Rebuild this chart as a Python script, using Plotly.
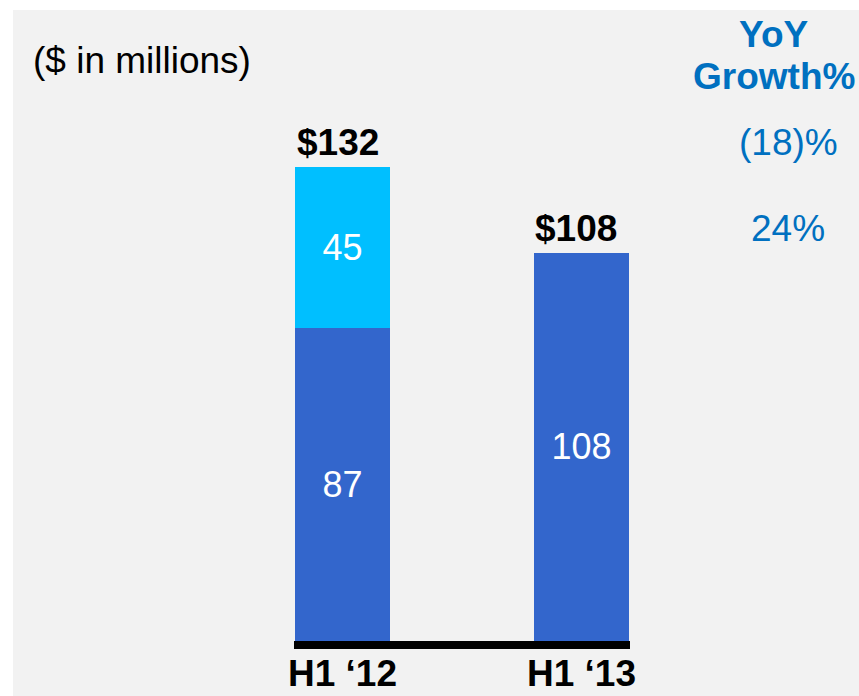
import plotly.graph_objects as go

categories = ["H1 ‘12", "H1 ‘13"]
base_values = [87, 108]
extra_values = [45, 0]
totals = [132, 108]
total_labels = ["$132", "$108"]
growth_labels = ["(18)%", "24%"]
unit_note = "($ in millions)"
growth_title = ["YoY", "Growth%"]

W, H = 859, 696
L, R, T, B = 294, 229, 102, 55
PW, PH = W - L - R, H - T - B
FONT = "Arial, Liberation Sans, sans-serif"
BLUE = "#3366cc"
CYAN = "#00bfff"
TXTBLUE = "#0070c0"
BG = "#f2f2f2"


def px_x(p):
    return (p - L) / PW


def px_y(p):
    return (H - B - p) / PH


fig = go.Figure()
fig.add_trace(go.Bar(
    x=categories, y=base_values, marker=dict(color=BLUE, line=dict(width=0)),
    width=0.4, text=[str(v) for v in base_values], textposition="inside",
    insidetextanchor="middle", textfont=dict(family=FONT, size=36, color="white"),
    hoverinfo="skip",
))
fig.add_trace(go.Bar(
    x=categories, y=extra_values, marker=dict(color=CYAN, line=dict(width=0)),
    width=0.4, text=[str(v) if v else "" for v in extra_values], textposition="inside",
    insidetextanchor="middle", textfont=dict(family=FONT, size=36, color="white"),
    hoverinfo="skip",
))

annotations = []
for c, t, lab in zip(categories, totals, total_labels):
    annotations.append(dict(x=c, y=t, xref="x", yref="y", text=lab, showarrow=False,
                            font=dict(family=FONT, size=37, color="black", weight="bold"),
                            yanchor="middle", yshift=24, xshift=-5))
for t, lab in zip(totals, growth_labels):
    annotations.append(dict(x=px_x(788), y=t, xref="paper", yref="y", text=lab, showarrow=False,
                            font=dict(family=FONT, size=37, color=TXTBLUE),
                            xanchor="center", yanchor="middle", yshift=24))
for i, line in enumerate(growth_title):
    annotations.append(dict(x=px_x(774), y=px_y(34 + 43 * i), xref="paper", yref="paper",
                            text=line, showarrow=False,
                            font=dict(family=FONT, size=37, color=TXTBLUE, weight="bold"),
                            xanchor="center", yanchor="middle"))
annotations.append(dict(x=px_x(31), y=px_y(61), xref="paper", yref="paper", text=unit_note,
                        showarrow=False, font=dict(family=FONT, size=37, color="black"),
                        xanchor="left", yanchor="middle"))

fig.update_layout(
    width=W, height=H, barmode="stack", showlegend=False,
    margin=dict(l=L, r=R, t=T, b=B, pad=0, autoexpand=False),
    paper_bgcolor="white", plot_bgcolor="rgba(0,0,0,0)",
    shapes=[dict(type="rect", xref="paper", yref="paper", layer="below",
                 x0=px_x(13), x1=px_x(W + 5), y0=px_y(H + 5), y1=px_y(10),
                 fillcolor=BG, line=dict(width=0))],
    annotations=annotations,
    xaxis=dict(range=[-0.203, 1.203], showline=True, linewidth=8, linecolor="black",
               ticks="", showgrid=False, zeroline=False, fixedrange=True, automargin=False,
               ticklabelstandoff=-7,
               tickfont=dict(family=FONT, size=37, color="black", weight="bold")),
    yaxis=dict(range=[0, 150], visible=False, showgrid=False, zeroline=False, fixedrange=True,
               automargin=False),
    uniformtext=dict(mode="show", minsize=10),
)

fig.write_html("out.html", config={"displayModeBar": False},
               post_script="document.body.style.margin='0px';document.body.style.overflow='hidden';")
